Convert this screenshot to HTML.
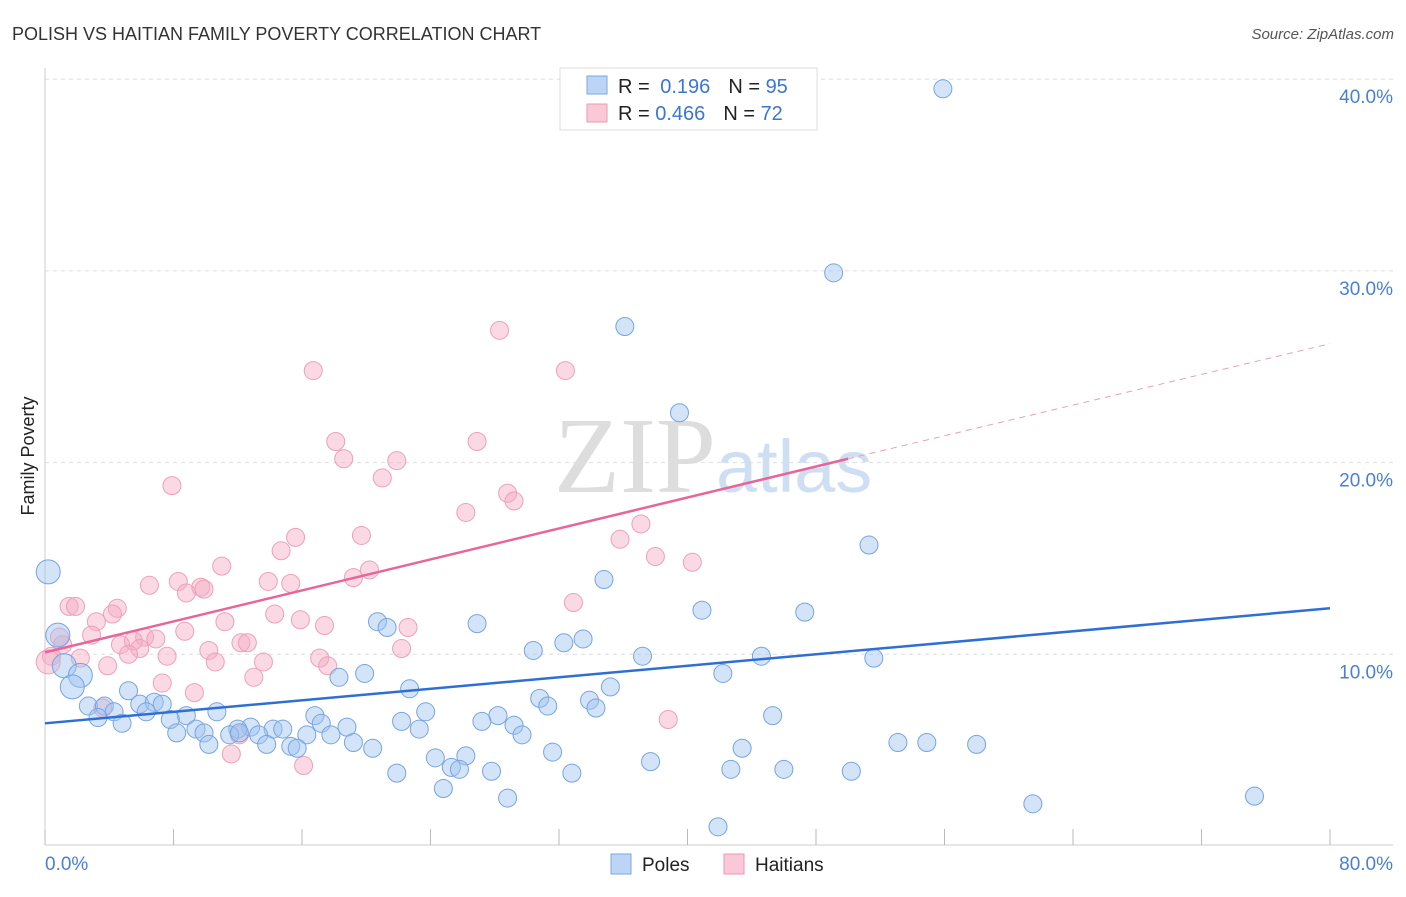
<!DOCTYPE html>
<html><head><meta charset="utf-8"><style>
body{margin:0;background:#fff;font-family:"Liberation Sans",sans-serif}
</style></head><body>
<svg id="chart" width="1406" height="892" xmlns="http://www.w3.org/2000/svg">
<text x="12" y="40" font-size="18" fill="#333">POLISH VS HAITIAN FAMILY POVERTY CORRELATION CHART</text>
<text x="1394" y="39" font-size="15" fill="#555" text-anchor="end" font-style="italic">Source: ZipAtlas.com</text>
<text x="0" y="0" transform="translate(34,456) rotate(-90)" font-size="18" fill="#222" text-anchor="middle">Family Poverty</text>
<g id="grid"></g>
<text x="716" y="492" font-size="108" fill="#ddd" text-anchor="end" font-family="Liberation Serif">ZIP</text>
<text x="716" y="492" font-size="74" fill="#cfdff3">atlas</text>
<g id="pts"></g>
<g id="lines"></g>
<g>
<rect x="560" y="68" width="257" height="62" fill="#fff" stroke="#ddd"/>
<rect x="587" y="76" width="20" height="18" fill="#bcd4f6" stroke="#7aa7e6"/>
<rect x="587" y="104" width="20" height="18" fill="#fbc8d7" stroke="#ee9ab4"/>
<text x="618" y="93" font-size="20" fill="#222">R = <tspan fill="#3a76d2" dx="5">0.196</tspan><tspan dx="18" fill="#222">N = </tspan><tspan fill="#3a76d2">95</tspan></text>
<text x="618" y="120" font-size="20" fill="#222">R = <tspan fill="#3a76d2">0.466</tspan><tspan dx="18" fill="#222">N = </tspan><tspan fill="#3a76d2">72</tspan></text>
</g>
<g>
<rect x="611" y="854" width="20" height="20" fill="#bcd4f6" stroke="#7aa7e6"/>
<text x="642" y="871" font-size="19" fill="#222">Poles</text>
<rect x="724" y="854" width="20" height="20" fill="#fbc8d7" stroke="#ee9ab4"/>
<text x="755" y="871" font-size="19" fill="#222">Haitians</text>
</g>
</svg>
<script>
const xTicks=[0,8,16,24,32,40,48,56,64,72,80];
const yTicks=[10,20,30,40];
const polesX=[55.9,49.1,36.1,39.5,51.3,0.2,34.8,40.9,47.3,20.7,26.9,21.3,0.8,33.5,32.3,30.4,37.2,44.6,51.6,1.2,19.9,18.3,42.2,2.2,1.7,35.2,22.7,5.2,30.8,33.9,31.3,2.7,3.7,5.9,6.8,7.3,34.3,23.7,6.3,4.3,10.7,16.8,28.2,45.3,3.3,8.8,7.8,27.2,22.2,17.2,4.8,29.2,23.3,18.8,9.4,12.8,14.2,14.8,12.0,8.2,9.9,11.5,12.1,13.3,16.3,17.8,29.7,10.2,13.8,15.3,15.7,19.2,20.4,43.4,53.1,54.9,58.0,31.6,24.3,26.2,25.3,25.8,37.7,21.9,27.8,32.8,42.7,46.0,50.2,24.8,28.8,61.5,75.3,41.9,35.9];
const polesY=[39.5,29.9,27.1,22.6,15.7,14.3,13.9,12.3,12.2,11.7,11.6,11.4,11.0,10.8,10.6,10.2,9.9,9.9,9.8,9.4,9.0,8.8,9.0,8.9,8.3,8.3,8.2,8.1,7.7,7.6,7.3,7.3,7.3,7.4,7.5,7.4,7.2,7.0,7.0,7.0,7.0,6.8,6.8,6.8,6.7,6.8,6.6,6.5,6.5,6.4,6.4,6.3,6.1,6.2,6.1,6.2,6.1,6.1,6.1,5.9,5.9,5.8,5.9,5.8,5.8,5.8,5.8,5.3,5.3,5.2,5.1,5.4,5.1,5.1,5.4,5.4,5.3,4.9,4.6,4.7,4.1,4.0,4.4,3.8,3.9,3.8,4.0,4.0,3.9,3.0,2.5,2.2,2.6,1.0,37.9];
const haitiansX=[28.3,16.7,32.4,18.1,26.9,18.6,21.9,7.9,21.0,28.8,29.2,26.2,37.1,15.6,19.7,35.8,14.7,38.0,40.3,11.0,20.2,19.2,8.3,6.5,13.9,15.3,9.7,9.9,8.8,32.9,1.5,1.9,4.5,4.2,3.2,14.3,15.9,11.2,17.4,22.6,8.7,2.9,0.9,6.2,6.9,5.5,12.2,12.6,4.7,1.1,5.9,10.2,22.2,5.2,7.6,0.4,2.2,0.2,10.6,13.6,17.1,17.6,3.9,13.0,7.3,9.3,3.6,38.8,12.1,11.6,16.1];
const haitiansY=[26.9,24.8,24.8,21.1,21.1,20.2,20.1,18.8,19.2,18.4,18.0,17.4,16.8,16.1,16.2,16.0,15.4,15.1,14.8,14.6,14.4,14.0,13.8,13.6,13.8,13.7,13.5,13.4,13.2,12.7,12.5,12.5,12.4,12.1,11.7,12.1,11.8,11.7,11.5,11.4,11.2,11.0,10.9,10.9,10.8,10.7,10.6,10.6,10.5,10.5,10.3,10.2,10.3,10.0,9.9,9.9,9.8,9.6,9.6,9.6,9.8,9.4,9.4,8.8,8.5,8.0,7.2,6.6,5.8,4.8,4.2];
const bigPoles=[5,12,19,23,24];
const bigHait=[57];
const polesLine=[6.4,12.4];
const haitLine=[10.1,20.2,26.2];
const sx=v=>45+v*(1330-45)/80;
const sy=v=>846-v*19.17;
const NS='http://www.w3.org/2000/svg';
function mk(t,a,p){const e=document.createElementNS(NS,t);for(const k in a)e.setAttribute(k,a[k]);p.appendChild(e);return e;}
const g=document.getElementById('grid');
yTicks.forEach(v=>{
 const l=mk('line',{x1:45,x2:1393,y1:sy(v),y2:sy(v),stroke:'#ddd','stroke-dasharray':'4,4'},g);
 
 
 const t=mk('text',{x:1393,y:sy(v)+24,'font-size':19,fill:'#4a7fd6','text-anchor':'end'},g);
 t.textContent=v.toFixed(1)+'%';
 
 
});
const ax=mk('line',{x1:45,x2:1393,y1:845,y2:845,stroke:'#ccc'},g);


const ay=mk('line',{x1:45,x2:45,y1:68,y2:845,stroke:'#ccc'},g);


xTicks.forEach(v=>{
 const l=mk('line',{x1:sx(v),x2:sx(v),y1:829,y2:845,stroke:'#bbb'},g);
 
 
});
const t0=mk('text',{x:45,y:870,'font-size':19,fill:'#4a7fd6'},g);t0.textContent=xTicks[0].toFixed(1)+'%';


const t1=mk('text',{x:1393,y:870,'font-size':19,fill:'#4a7fd6','text-anchor':'end'},g);t1.textContent=xTicks[xTicks.length-1].toFixed(1)+'%';


const pg=document.getElementById('pts');
haitiansX.forEach((x,i)=>{
 const c=mk('circle',{cx:sx(x),cy:sy(haitiansY[i]),r:bigHait.includes(i)?12:9,fill:'rgba(245,170,195,0.45)',stroke:'#eea0b8','stroke-width':1},pg);
 
 
});
polesX.forEach((x,i)=>{
 const c=mk('circle',{cx:sx(x),cy:sy(polesY[i]),r:bigPoles.includes(i)?12:9,fill:'rgba(160,195,240,0.45)',stroke:'#76a4e2','stroke-width':1},pg);
 
 
});
const lg=document.getElementById('lines');
const bl=mk('line',{x1:sx(0),y1:sy(polesLine[0]),x2:sx(80),y2:sy(polesLine[1]),stroke:'#2f6fd4','stroke-width':2.5},lg);


const pl=mk('line',{x1:sx(0),y1:sy(haitLine[0]),x2:sx(50),y2:sy(haitLine[1]),stroke:'#e8659a','stroke-width':2.5},lg);


const pd=mk('line',{x1:sx(50),y1:sy(haitLine[1]),x2:sx(80),y2:sy(haitLine[2]),stroke:'#e8a0b8','stroke-width':1,'stroke-dasharray':'6,5'},lg);


</script>
</body></html>
